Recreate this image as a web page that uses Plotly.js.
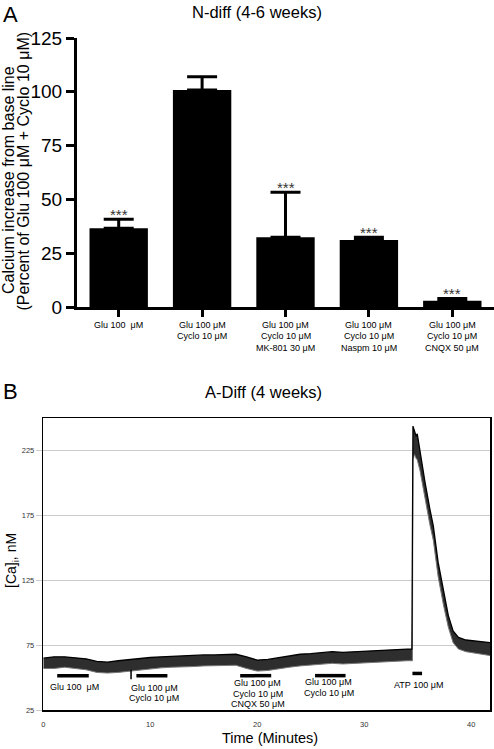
<!DOCTYPE html>
<html><head><meta charset="utf-8">
<script src="https://cdn.plot.ly/plotly-3.0.1.min.js"></script>
<style>html,body{margin:0;padding:0;background:#fff;} #chart{width:494px;height:749px;}</style>
</head><body><div id="chart"></div>
<script>
// ---------- Panel A data ----------
const treatmentLabels = [
  ["Glu 100\u00a0 μM"],
  ["Glu 100 μM", "Cyclo 10 μM"],
  ["Glu 100 μM", "Cyclo 10 μM", "MK-801 30 μM"],
  ["Glu 100 μM", "Cyclo 10 μM", "Naspm 10 μM"],
  ["Glu 100 μM", "Cyclo 10 μM", "CNQX 50 μM"]
];
const calciumPct = [36.6, 100.8, 32.4, 31.1, 2.9];
const calciumSem = [4.2, 6.2, 20.9, 1.3, 1.1];
const significance = ["***", "", "***", "***", "***"];
const yTicksA = [0, 25, 50, 75, 100, 125];

// ---------- Panel B data ----------
const timeMin = [0, 1, 2, 3, 4, 5, 6, 7, 8, 9, 10, 11, 12, 13, 14, 15, 16, 17, 18, 19,
  20, 21, 22, 23, 24, 25, 26, 27, 28, 29, 30, 31, 32, 33, 34,
  34.45, 34.5, 34.55, 34.7, 34.85, 34.95, 35.2, 35.67, 36.13, 36.45, 36.9, 37.4, 37.85, 38.3, 38.8, 39.5, 40.2, 41.0, 41.75];
const caUpper = [65, 66, 66, 65.5, 64.5, 62.5, 62, 63, 64, 65, 65.5, 66, 66.5, 66.5, 67, 67.5, 67.5, 68, 68, 66,
  63.5, 64, 65.5, 66.5, 68, 68.5, 69, 70, 69.5, 70, 70.5, 71, 71, 71.5, 72,
  72, 243, 244, 240, 236, 238, 224, 201, 180, 167, 139, 116, 98, 86, 81, 79, 78.5, 78, 77];
const caLower = [57, 57, 58, 57, 56, 54, 53.5, 54, 55, 56, 57, 57.5, 58, 58, 58.5, 59, 59, 59.5, 59.5, 57,
  55, 55.5, 57, 58, 59, 59.5, 60, 61, 60.5, 61, 61.5, 62, 62, 62.5, 63,
  63, 63, 218, 222, 219, 218, 210, 188, 168, 156, 128, 106, 89, 77, 72, 70, 69, 68, 67];
const drugStart = [1.3, 8.7, 18.4, 25.4, 34.5];
const drugEnd = [4.25, 11.6, 21.3, 28.25, 35.4];
const drugLabels = [
  ["Glu 100\u00a0 μM"],
  ["Glu 100 μM", "Cyclo 10 μM"],
  ["Glu 100 μM", "Cyclo 10 μM", "CNQX 50 μM"],
  ["Glu 100 μM", "Cyclo 10 μM"],
  ["ATP 100 μM"]
];
const drugLabelTime = [2.93, 10.36, 20.04, 26.7, 35.1];
const artifactTime = 8.2;
const xTicksB = [0, 10, 20, 30, 40];
const yTicksB = [25, 75, 125, 175, 225];

// ---------- layout helpers ----------
const W = 494, H = 749;
const px = v => v / W;
const py = v => 1 - v / H;
const FONT = "Liberation Sans, Arial, Helvetica, sans-serif";

const annotations = [];
const shapes = [];

// Panel letters and titles
annotations.push({xref:'paper', yref:'paper', x:px(1), y:1, xanchor:'left', yanchor:'top', text:'A', showarrow:false, font:{size:22, color:'#000'}});
annotations.push({xref:'paper', yref:'paper', x:px(256.5), y:py(12), xanchor:'center', yanchor:'middle', text:'N-diff (4-6 weeks)', showarrow:false, font:{size:16.5, color:'#000'}});
annotations.push({xref:'paper', yref:'paper', x:px(1), y:py(391), xanchor:'left', yanchor:'middle', text:'B', showarrow:false, font:{size:22, color:'#000'}});
annotations.push({xref:'paper', yref:'paper', x:px(263), y:py(391.7), xanchor:'center', yanchor:'middle', text:'A-Diff (4 weeks)', showarrow:false, font:{size:16.5, color:'#000'}});

// Panel A y-title (two rotated lines)
annotations.push({xref:'paper', yref:'paper', x:px(8), y:py(180), xanchor:'center', yanchor:'middle', textangle:-90, text:'Calcium increase from base line', showarrow:false, font:{size:16, color:'#000'}});
annotations.push({xref:'paper', yref:'paper', x:px(23), y:py(171.5), xanchor:'center', yanchor:'middle', textangle:-90, text:'(Percent of Glu 100 μM + Cyclo 10 μM)', showarrow:false, font:{size:16, color:'#000'}});

// Panel A category labels
const catLineY = [325, 335.5, 347.5];
treatmentLabels.forEach((lines, i) => {
  lines.forEach((t, j) => {
    annotations.push({xref:'x', yref:'paper', x:i, y:py(catLineY[j]), xanchor:'center', yanchor:'middle', text:t, showarrow:false, font:{size:9, color:'#000'}});
  });
});

// Panel A significance stars
significance.forEach((s, i) => {
  if (!s) return;
  annotations.push({xref:'x', yref:'y', x:i, y:calciumPct[i] + calciumSem[i], xanchor:'center', yanchor:'middle', yshift:5, text:s, showarrow:false, font:{size:15, color:'#333'}});
});

// Panel B axis titles
annotations.push({xref:'paper', yref:'paper', x:px(12), y:py(561), xanchor:'center', yanchor:'middle', textangle:-90, text:'[Ca]<sub>i</sub>, nM', showarrow:false, font:{size:14, color:'#000'}});
annotations.push({xref:'paper', yref:'paper', x:px(269.7), y:py(738), xanchor:'center', yanchor:'middle', text:'Time (Minutes)', showarrow:false, font:{size:14.5, color:'#000'}});

// Panel B drug bars + labels
const barLevel = [51.5, 51.5, 51.5, 51.5, 53.2];
const labelFirstY = [42.9, 42.2, 45.5, 46.5, 44.2];
const labelStep = 8.0;
drugStart.forEach((s, i) => {
  shapes.push({type:'line', xref:'x2', yref:'y2', x0:s, x1:drugEnd[i], y0:barLevel[i], y1:barLevel[i], line:{color:'#000', width:3.5}, layer:'above'});
  drugLabels[i].forEach((t, j) => {
    annotations.push({xref:'x2', yref:'y2', x:drugLabelTime[i], y:labelFirstY[i] - j * labelStep, xanchor:'center', yanchor:'middle', text:t, showarrow:false, font:{size:9, color:'#000'}});
  });
});
shapes.push({type:'line', xref:'x2', yref:'y2', x0:artifactTime, x1:artifactTime, y0:48.8, y1:56, line:{color:'#000', width:1.5}, layer:'above'});

const traces = [
  {type:'bar', x:calciumPct.map((_, i) => i), y:calciumPct, xaxis:'x', yaxis:'y', width:0.7,
   marker:{color:'#000', line:{width:0}}, hoverinfo:'skip',
   error_y:{type:'data', array:calciumSem, arrayminus:calciumSem.map(() => 0), symmetric:false, color:'#000', thickness:3, width:15}},
  {type:'scatter', mode:'lines', x:timeMin, y:caLower, xaxis:'x2', yaxis:'y2', line:{color:'#777', width:1}, hoverinfo:'skip'},
  {type:'scatter', mode:'lines', x:timeMin, y:caUpper, xaxis:'x2', yaxis:'y2', line:{color:'#000', width:1.3}, fill:'tonexty', fillcolor:'#2e2e2e', hoverinfo:'skip'}
];

const layout = {
  width:W, height:H, margin:{l:0, r:0, t:0, b:0}, showlegend:false,
  paper_bgcolor:'#fff', plot_bgcolor:'rgba(0,0,0,0)',
  font:{family:FONT, color:'#000'},
  bargap:0.3,
  xaxis:{domain:[px(77), 1], range:[-0.5, 4.5], anchor:'y', tickvals:[0,1,2,3,4], showticklabels:false,
    ticks:'outside', ticklen:7, tickwidth:3, tickcolor:'#000', showline:true, linewidth:3, linecolor:'#000',
    showgrid:false, zeroline:false, fixedrange:true},
  yaxis:{domain:[py(307), py(38)], range:[0, 125], anchor:'x', tickvals:yTicksA,
    ticks:'outside', ticklen:8, tickwidth:3, tickcolor:'#000', showline:true, linewidth:3, linecolor:'#000',
    tickfont:{size:19, color:'#000'}, showgrid:false, zeroline:false, fixedrange:true},
  xaxis2:{domain:[px(43.3), px(490)], range:[0, 41.75], anchor:'y2', tickvals:xTicksB,
    ticks:'', ticklabelstandoff:6, tickfont:{size:7.5, color:'#333'},
    showline:true, mirror:true, linewidth:1.5, linecolor:'#000', showgrid:false, zeroline:false, fixedrange:true},
  yaxis2:{domain:[py(710), py(418.3)], range:[25, 250], anchor:'x2', tickvals:yTicksB,
    ticks:'outside', ticklen:6, tickcolor:'#ccc', tickwidth:1, tickfont:{size:7.5, color:'#333'},
    showgrid:true, gridcolor:'#ccc', gridwidth:1,
    showline:true, mirror:true, linewidth:1.5, linecolor:'#000', zeroline:false, fixedrange:true},
  annotations:annotations,
  shapes:shapes
};

Plotly.newPlot('chart', traces, layout, {staticPlot:true, displayModeBar:false});
</script>
</body></html>
